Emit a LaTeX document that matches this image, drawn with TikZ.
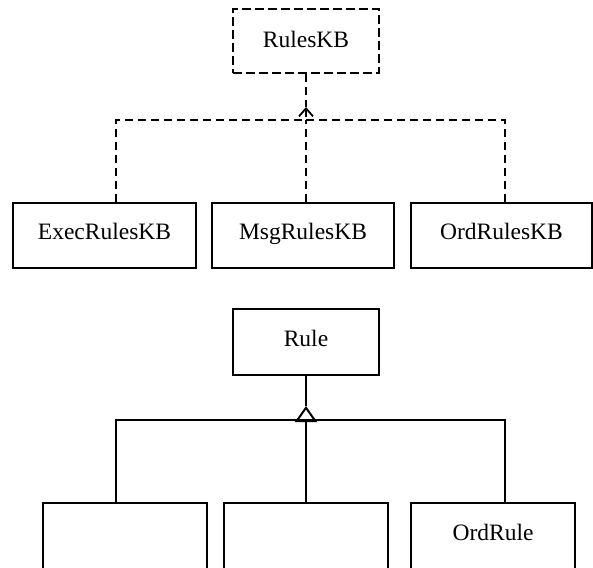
\documentclass[tikz,border=0pt]{standalone}
\usepackage{fontspec}
\setmainfont{Liberation Serif}
\usetikzlibrary{arrows.meta}
\begin{document}
\begin{tikzpicture}[x=1pt,y=-1pt,
  box/.style={draw, line width=2pt, minimum height=65pt, inner sep=0pt,
    text height=17pt, text depth=10pt,
    font=\fontsize{23.5}{28}\selectfont},
  dbox/.style={box, dash pattern=on 9pt off 4pt},
  link/.style={line width=2pt},
  dlink/.style={line width=2pt, dash pattern=on 8pt off 5pt}]
\useasboundingbox (0,0) rectangle (593,567);
\clip (0,0) rectangle (593,567);

% top hierarchy
\node[dbox, minimum width=146pt, minimum height=64pt, text depth=3pt] (rkb) at (306,41) {RulesKB};
\node[box, minimum width=183pt] (exec) at (104.5,235.5) {ExecRulesKB};
\node[box, minimum width=182pt] (msg) at (303,235.5) {MsgRulesKB};
\node[box, minimum width=181pt] (ordkb) at (501.5,235.5) {OrdRulesKB};

\coordinate (jt) at (306,120);
\coordinate (tt) at (306,107);
\coordinate (cL) at (116,120);
\coordinate (cR) at (505,120);

\draw[dlink] (rkb.south) -- (tt);
\draw[dlink, {Straight Barb[length=8pt,width=14pt,line width=1.8pt]}-] (tt) -- (jt);
\draw[dlink] (exec.north -| cL) -- (cL) -- (jt);
\draw[dlink] (ordkb.north -| cR) -- (cR) -- (jt);
\draw[dlink] (msg.north -| jt) -- (jt);

% bottom hierarchy
\node[box, minimum width=146pt, minimum height=66pt, text depth=9pt] (rule) at (306,342) {Rule};
\node[box, minimum width=164pt, minimum height=70pt, anchor=north] (b1) at (125,502) {};
\node[box, minimum width=164pt, minimum height=70pt, anchor=north] (b2) at (306,502) {};
\node[box, minimum width=164pt, minimum height=70pt, anchor=north, text depth=13pt] (b3) at (493,502) {OrdRule};

\coordinate (jb) at (306,421);
\coordinate (tb) at (306,406);
\coordinate (dL) at (116,420);
\coordinate (dR) at (505,420);

\draw[link] (rule.south) -- (tb);
\draw[link, {Triangle[open,length=16pt,width=22pt,line width=2pt]}-] (tb) -- (jb);
\draw[link] (b1.north -| dL) -- (dL) -- (dR) -- (b3.north -| dR);
\draw[link] (b2.north) -- (jb);
\end{tikzpicture}
\end{document}
